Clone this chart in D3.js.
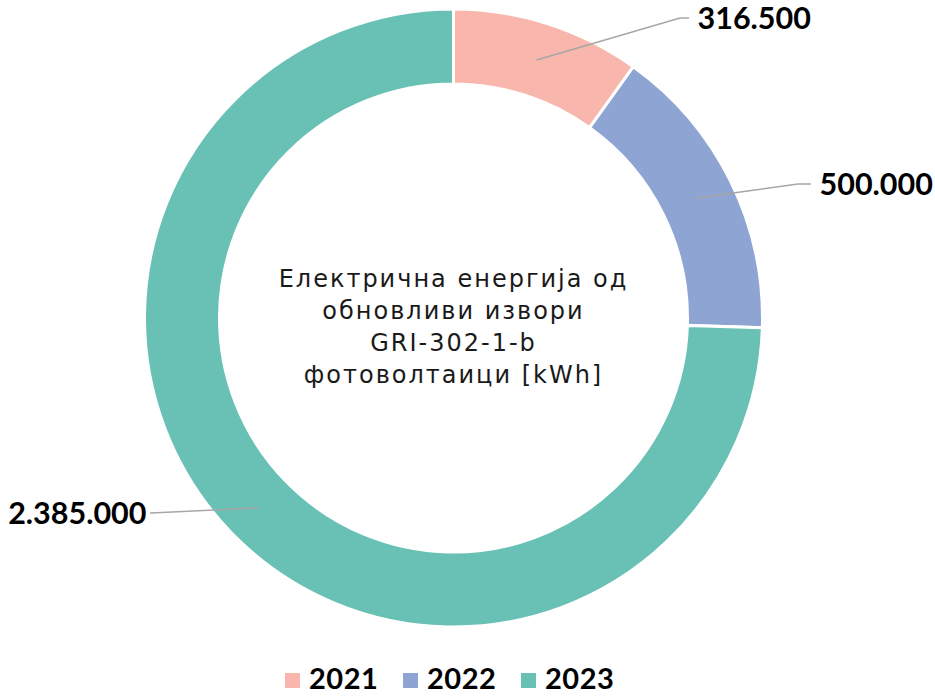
<!DOCTYPE html>
<html>
<head>
<meta charset="utf-8">
<script src="https://cdn.jsdelivr.net/npm/d3@7"></script>
<style>
  html, body { margin: 0; padding: 0; background: #fff; }
  svg { display: block; }
</style>
</head>
<body>
<svg id="chart" width="935" height="696"></svg>
<script>
// Renewable electricity from photovoltaics, kWh per year
const years = ["2021", "2022", "2023"];
const values = [316500, 500000, 2385000];
const colors = ["#F8B6AC", "#8EA4D3", "#68C1B4"];
const valueLabels = ["316.500", "500.000", "2.385.000"];
const centerLines = ["Електрична енергија од", "обновливи извори", "GRI-302-1-b", "фотоволтаици [kWh]"];

const svg = d3.select("#chart");
const cx = 453.5, cy = 318;
const outerR = 309, innerR = 234;

const pie = d3.pie().sort(null).value(d => d.value);
const arcs = pie(years.map((y, i) => ({ year: y, value: values[i], label: valueLabels[i], color: colors[i] })));
const arc = d3.arc().innerRadius(innerR).outerRadius(outerR);

const g = svg.append("g").attr("transform", `translate(${cx},${cy})`);

g.selectAll("path.slice")
  .data(arcs)
  .join("path")
  .attr("class", "slice")
  .attr("d", arc)
  .attr("fill", d => d.data.color)
  .attr("stroke", "#fff")
  .attr("stroke-width", 3);

// Leader lines: start inside the ring, bend, then a short horizontal run to the label
const leaderSpec = [
  { elbow: [226.5, -300], end: [235.5, -300], anchor: "start", tx: 244 },
  { elbow: [344.5, -134], end: [357.5, -134], anchor: "start", tx: 366 },
  { elbow: [-302.5, 195], end: [-303.5, 195], anchor: "end", tx: -307 }
];
const startPts = [[83, -258], [243.5, -120], [-195.5, 190]];

arcs.forEach((d, i) => {
  const s = leaderSpec[i];
  g.append("polyline")
    .attr("points", [startPts[i], s.elbow, s.end].map(p => p.join(",")).join(" "))
    .attr("fill", "none")
    .attr("stroke", "#A6A6A6")
    .attr("stroke-width", 1.5);
  g.append("text")
    .attr("x", s.tx)
    .attr("y", s.end[1])
    .attr("dy", "0.35em")
    .attr("text-anchor", s.anchor)
    .attr("font-family", "Lato, sans-serif")
    .attr("font-weight", 700)
    .attr("font-size", 30.5)
    .attr("fill", "#000")
    .text(d.data.label);
});

// Center title, one text element per line
g.selectAll("text.center")
  .data(centerLines)
  .join("text")
  .attr("class", "center")
  .attr("x", 0)
  .attr("y", (d, i) => -31 + i * 32)
  .attr("text-anchor", "middle")
  .attr("font-family", "'DejaVu Sans', sans-serif")
  .attr("font-size", 24)
  .attr("letter-spacing", 2)
  .attr("fill", "#1a1a1a")
  .text(d => d);

// Legend
const legendX = [285, 403, 521];
const legend = svg.append("g");
years.forEach((y, i) => {
  legend.append("rect")
    .attr("x", legendX[i]).attr("y", 673)
    .attr("width", 15).attr("height", 15)
    .attr("fill", colors[i]);
  legend.append("text")
    .attr("x", legendX[i] + 24).attr("y", 689)
    .attr("font-family", "Lato, sans-serif")
    .attr("font-weight", 700)
    .attr("font-size", 29)
    .attr("letter-spacing", 0.5)
    .attr("fill", "#000")
    .text(y);
});
</script>
</body>
</html>
